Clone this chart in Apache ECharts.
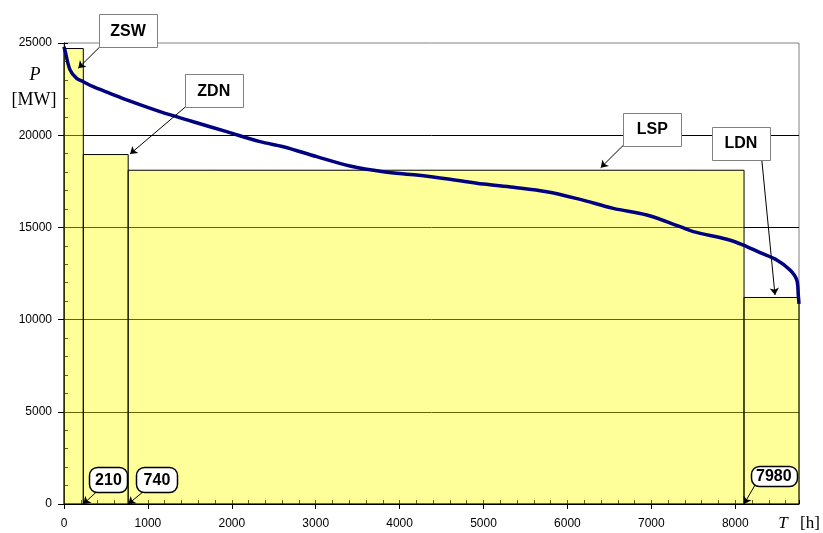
<!DOCTYPE html>
<html>
<head>
<meta charset="utf-8">
<script src="https://cdn.jsdelivr.net/npm/echarts@6/dist/echarts.min.js"></script>
<style>
  html, body { margin: 0; padding: 0; background: #fff; }
  #chart { width: 823px; height: 533px; }
</style>
</head>
<body>
<div id="chart"></div>
<script>
// uporzadkowany wykres obciazen - godziny w roku / moc
var hours = [0, 12, 72, 151, 230, 349, 548, 747, 1144, 1541, 1939, 2336, 2614, 3012, 3409, 3806, 4204,
    4601, 4998, 5355, 5753, 6150, 6547, 6945, 7342, 7500, 7899, 8097, 8296, 8495, 8653, 8733, 8752, 8760];
var powerMW = [24800, 24600, 23540, 23080, 22900, 22630, 22270, 21910, 21275, 20730, 20190, 19650, 19375,
    18835, 18330, 18020, 17840, 17610, 17350, 17175, 16935, 16520, 16030, 15670, 15040, 14770, 14360,
    14045, 13630, 13230, 12690, 12150, 11300, 10850];

// bloki (prostokaty pod krzywa)
var blockNames = ['ZSW', 'ZDN', 'LSP', 'LDN'];
var blockStart = [0, 230, 765, 8105];
var blockEnd = [230, 765, 8105, 8760];
var blockPower = [24700, 18950, 18100, 11200];

// opisy granic blokow
var edgeLabels = ['210', '740', '7980'];
var edgeHours = [230, 765, 8105];

// osie
var xMax = 8760, xStep = 1000, xMinorStep = 200;
var yMax = 25000, yStep = 5000, yMinorStep = 1000;

// polozenia ramek z opisami (we wspolrzednych wykresu)
var nameBoxes = [[763, 25678], [1785, 22413], [7011, 20336], [8067, 19577]];
var nameArrows = [
    [[429, 24800], [170, 23630]],
    [[1442, 21513], [787, 18980]],
    [[6666, 19452], [6397, 18238]],
    [[8316, 18693], [8474, 11334]]
];
var edgeBoxes = [[530, 1345], [1108, 1345], [8460, 1518]];
var edgeBoxSize = [[38, 25], [41, 25], [46, 20]];
var edgeArrowStart = [[390, 667], [945, 667], [8236, 1030]];

var font = 'Arial, "Liberation Sans", sans-serif';
var serif = '"Times New Roman", "Liberation Serif", serif';

var blockData = blockNames.map(function (n, i) {
    return [blockStart[i], blockEnd[i], blockPower[i]];
});
var curveData = hours.map(function (h, i) { return [h, powerMW[i]]; });

var markLines = nameArrows.map(function (a) {
    return [{coord: a[0]}, {coord: a[1]}];
});
edgeArrowStart.forEach(function (s, i) {
    markLines.push([{coord: s}, {coord: [edgeHours[i], 0]}]);
});

var plainNum = function (v) { return String(v); };
var gridBox = {left: 64, right: 24, top: 43, bottom: 29, outerBoundsMode: 'none'};

var chart = echarts.init(document.getElementById('chart'));

chart.setOption({
    animation: false,
    grid: [
        Object.assign({show: true, borderColor: '#808080', borderWidth: 1}, gridBox),
        Object.assign({show: false}, gridBox)   // druga siatka tylko na drobne podzialki
    ],
    xAxis: [{
        type: 'value', gridIndex: 0, min: 0, max: xMax, interval: xStep,
        axisLine: {lineStyle: {color: '#000', width: 1}},
        axisTick: {length: 5, lineStyle: {color: '#000'}},
        axisLabel: {color: '#000', fontSize: 12, fontFamily: font, margin: 14, showMaxLabel: false,
            formatter: plainNum},
        splitLine: {show: false}
    }, {
        type: 'value', gridIndex: 1, min: 0, max: xMax, interval: xMinorStep, position: 'bottom',
        axisLine: {show: false},
        axisTick: {show: true, inside: true, length: 4, lineStyle: {color: '#000'}},
        axisLabel: {show: false},
        splitLine: {show: false}
    }],
    yAxis: [{
        type: 'value', gridIndex: 0, min: 0, max: yMax, interval: yStep,
        axisLine: {show: true, lineStyle: {color: '#000', width: 1}},
        axisTick: {show: true, length: 6, lineStyle: {color: '#000'}},
        axisLabel: {color: '#000', fontSize: 12, fontFamily: font, margin: 12, formatter: plainNum},
        splitLine: {show: true, showMaxLine: false, lineStyle: {color: '#000', width: 1}}
    }, {
        type: 'value', gridIndex: 1, min: 0, max: yMax, interval: yMinorStep, position: 'left',
        axisLine: {show: false},
        axisTick: {show: true, inside: true, length: 4, lineStyle: {color: '#000'}},
        axisLabel: {show: false},
        splitLine: {show: false}
    }],
    series: [{
        type: 'custom',
        silent: true,
        z: 2,
        data: blockData,
        encode: {x: [0, 1], y: 2},
        renderItem: function (params, api) {
            var p0 = api.coord([api.value(0), api.value(2)]);
            var p1 = api.coord([api.value(1), 0]);
            return {
                type: 'rect',
                shape: {x: p0[0], y: p0[1], width: p1[0] - p0[0], height: p1[1] - p0[1]},
                style: {fill: 'rgba(255,255,0,0.4)', stroke: '#000', lineWidth: 1}
            };
        }
    }, {
        type: 'line',
        silent: true,
        z: 3,
        data: curveData,
        showSymbol: false,
        smooth: 0.35,
        lineStyle: {color: '#000080', width: 3.5}
    }, {
        type: 'line',
        silent: true,
        z: 5,
        data: [],
        markLine: {
            silent: true,
            symbol: ['none', 'arrow'],
            symbolSize: 7,
            label: {show: false},
            lineStyle: {color: '#000', width: 1, type: 'solid'},
            emphasis: {disabled: true},
            data: markLines
        }
    }]
});

// ramki z opisami
var boxes = [];
function addBox(coord, w, h, text, r, stroke, lw) {
    var p = chart.convertToPixel({gridIndex: 0}, coord);
    boxes.push({
        type: 'rect', z: 100,
        shape: {x: Math.round(p[0] - w / 2) + 0.5, y: Math.round(p[1] - h / 2) + 0.5, width: w, height: h, r: r},
        style: {fill: '#fff', stroke: stroke, lineWidth: lw}
    });
    boxes.push({
        type: 'text', z: 101,
        style: {text: text, x: p[0], y: p[1] + 1, align: 'center', verticalAlign: 'middle',
            font: 'bold 16px ' + font, fill: '#000'}
    });
}
nameBoxes.forEach(function (c, i) { addBox(c, 58, 33, blockNames[i], 0, '#808080', 1); });
edgeBoxes.forEach(function (c, i) { addBox(c, edgeBoxSize[i][0], edgeBoxSize[i][1], edgeLabels[i], 8, '#000', 1.5); });

boxes.push(
    {type: 'text', style: {text: 'P', x: 35, y: 75, align: 'center', verticalAlign: 'middle',
        font: 'italic 18px ' + serif, fill: '#000'}},
    {type: 'text', style: {text: '[MW]', x: 34, y: 100, align: 'center', verticalAlign: 'middle',
        font: '18px ' + serif, fill: '#000'}},
    {type: 'text', style: {text: 'T', x: 783, y: 524, align: 'center', verticalAlign: 'middle',
        font: 'italic 17px ' + serif, fill: '#000'}},
    {type: 'text', style: {text: '[h]', x: 800, y: 524, align: 'left', verticalAlign: 'middle',
        font: '17px ' + serif, fill: '#000'}}
);
chart.setOption({graphic: boxes});
</script>
</body>
</html>
